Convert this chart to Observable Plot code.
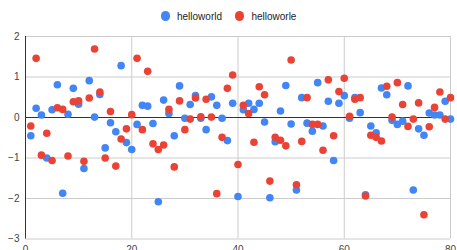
<!DOCTYPE html>
<html><head><meta charset="utf-8">
<script src="https://cdn.jsdelivr.net/npm/d3@7"></script>
<script src="https://cdn.jsdelivr.net/npm/@observablehq/plot@0.6"></script>
<style>
body{margin:0;background:#fff;font-family:"Liberation Sans",Arial,sans-serif;}
#legend{width:457px;height:32px;display:flex;align-items:center;justify-content:center;font-size:10px;color:#222;}
.item{display:flex;align-items:center;}
.item + .item{margin-left:13px;}
.sw{width:9.4px;height:9.4px;border-radius:50%;margin-right:7px;}
</style></head><body>
<div id="legend"></div><div id="chart"></div>
<script>
const seriesNames = ["helloworld", "helloworle"];
const seriesColors = ["#4285F4", "#EA4335"];
const blueValues = [-0.45,0.23,0.06,-1.0,0.19,0.81,-1.87,0.08,0.72,0.33,
  -1.26,0.91,0.01,0.57,-0.75,-0.13,-0.35,1.28,-0.62,-0.79,
  -0.17,0.30,0.28,-0.15,-2.08,0.43,0.10,-0.45,0.78,-0.02,
  0.32,0.54,-0.02,-0.30,0.51,0.30,-0.02,-0.57,0.35,-1.95,
  0.19,0.35,0.20,0.35,-0.11,-1.98,-0.60,0.16,0.79,-0.16,
  -1.79,0.49,-0.14,-0.34,0.86,-0.21,0.40,-1.06,0.35,0.54,
  -0.02,0.49,0.12,-1.91,-0.21,-0.38,0.73,0.56,-0.07,-0.17,
  -0.09,0.78,-1.79,-0.28,-0.44,0.11,0.06,0.06,0.40,-0.04];
const redValues = [-0.21,1.46,-0.93,-0.39,-1.06,0.24,0.20,-0.95,0.39,0.41,
  -1.08,0.48,1.69,0.63,-1.0,0.15,-1.2,-0.53,-0.28,0.07,
  1.46,-0.30,1.14,-0.65,-0.79,-0.68,0.20,-1.22,0.41,-0.30,
  -0.04,0.48,0.02,0.45,0.01,-1.88,-0.49,0.72,1.05,-1.16,
  0.30,0.10,-0.61,0.76,0.56,-1.57,-0.49,-0.56,-0.70,1.42,
  -1.66,-0.59,0.49,-0.17,-0.17,-0.81,0.93,-0.45,0.64,0.97,
  0.03,0.45,0.49,-1.94,-0.44,-0.49,-0.58,0.77,0.01,0.86,
  0.32,-0.22,-0.04,0.36,-2.40,-0.23,0.25,0.63,-0.04,0.49];
const xTicks = [0, 20, 40, 60, 80];
const yTicks = [-3, -2, -1, 0, 1, 2];

// legend
const legend = document.getElementById("legend");
seriesNames.forEach((n, i) => {
  const it = document.createElement("div"); it.className = "item";
  const sw = document.createElement("span"); sw.className = "sw"; sw.style.background = seriesColors[i];
  const tx = document.createElement("span"); tx.textContent = n;
  it.appendChild(sw); it.appendChild(tx); legend.appendChild(it);
});

const data = [
  ...blueValues.map((v, i) => ({x: i + 1, y: v, s: seriesNames[0]})),
  ...redValues.map((v, i) => ({x: i + 1, y: v, s: seriesNames[1]}))
];

const chart = Plot.plot({
  width: 457, height: 218,
  marginLeft: 25, marginRight: 7, marginTop: 4, marginBottom: 11.5,
  style: {fontFamily: "Liberation Sans, Arial, sans-serif", fontSize: "10px", background: "white", overflow: "visible", color: "#444"},
  x: {domain: [0, 80], ticks: xTicks},
  y: {domain: [-3, 2], ticks: yTicks},
  color: {domain: seriesNames, range: seriesColors},
  marks: [
    Plot.gridY(yTicks.filter(d => d !== 0), {stroke: "#cccccc", strokeOpacity: 1}),
    Plot.gridX(xTicks.filter(d => d !== 0), {stroke: "#cccccc", strokeOpacity: 1}),
    Plot.ruleY([0], {stroke: "#333"}),
    Plot.ruleX([0], {stroke: "#333"}),
    Plot.axisY(yTicks, {tickSize: 0, tickPadding: 6, fill: "#444", label: null}),
    Plot.axisX(xTicks, {tickSize: 0, tickPadding: 7, fill: "#444", label: null}),
    Plot.dot(data, {x: "x", y: "y", fill: "s", r: 3.8})
  ]
});
document.getElementById("chart").appendChild(chart);
</script>
</body></html>
